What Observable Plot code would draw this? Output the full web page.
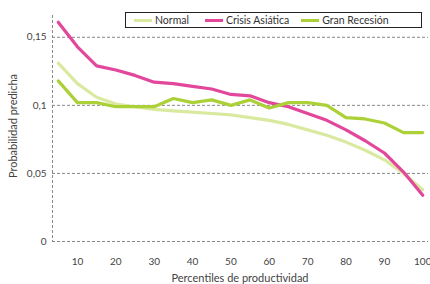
<!DOCTYPE html>
<html><head><meta charset="utf-8">
<script src="https://cdn.jsdelivr.net/npm/d3@7"></script>
<script src="https://cdn.jsdelivr.net/npm/@observablehq/plot@0.6"></script>
<style>
body{margin:0;background:#fff;font-family:Lato,"Open Sans",sans-serif;}
#wrap{position:relative;width:430px;height:284px;overflow:hidden;}
#legend{position:absolute;left:125px;top:12px;width:295px;height:14px;border:1px solid #222;background:#fff;font-size:10.5px;color:#333;display:flex;align-items:center;white-space:nowrap;}
#legend .it{display:flex;align-items:center;margin-left:8px;}
#legend .sw{display:inline-block;width:18px;height:3px;margin-right:3px;}
#xlab{position:absolute;left:0;width:480px;text-align:center;top:271px;font-size:11px;color:#444;}
#ylab{position:absolute;left:12px;top:126px;font-size:11px;color:#444;transform:translate(-50%,-50%) rotate(-90deg);white-space:nowrap;}
</style></head>
<body><div id="wrap"><div id="chart"></div><div id="legend"></div><div id="xlab"></div><div id="ylab"></div></div>
<script>
const percentiles = [5,10,15,20,25,30,35,40,45,50,55,60,65,70,75,80,85,90,95,100];
const normal = [0.131,0.116,0.106,0.101,0.099,0.097,0.096,0.095,0.094,0.093,0.091,0.089,0.086,0.082,0.078,0.073,0.067,0.060,0.050,0.038];
const crisisAsiatica = [0.161,0.143,0.129,0.126,0.122,0.117,0.116,0.114,0.112,0.108,0.107,0.102,0.099,0.094,0.089,0.082,0.074,0.065,0.051,0.034];
const granRecesion = [0.118,0.102,0.102,0.099,0.099,0.099,0.105,0.102,0.104,0.100,0.104,0.098,0.102,0.102,0.100,0.091,0.090,0.087,0.080,0.080];
const seriesNames = ["Normal","Crisis Asiática","Gran Recesión"];
const seriesColors = ["#d9eaa0","#e2479b","#acd037"];
const yTicks = [0,0.05,0.1,0.15];
const yTickLabels = ["0","0,05","0,1","0,15"];
const xTicks = [10,20,30,40,50,60,70,80,90,100];
const xLabel = "Percentiles de productividad";
const yLabel = "Probabilidad predicha";

const allSeries = [normal, crisisAsiatica, granRecesion];
const data = [];
allSeries.forEach((vals,si)=>vals.forEach((v,i)=>data.push({p:percentiles[i], v, s:seriesNames[si]})));

const plot = Plot.plot({
  width:430, height:284,
  marginLeft:52, marginRight:2, marginTop:15, marginBottom:43,
  style:{fontFamily:"Lato, 'Open Sans', sans-serif", fontSize:"10px", color:"#444", background:"#fff"},
  x:{domain:[3.5,101.5], ticks:xTicks, tickSize:0, tickPadding:16, label:null},
  y:{domain:[0,0.166], ticks:yTicks, tickFormat:d=>yTickLabels[yTicks.indexOf(d)], tickSize:0, tickPadding:6, label:null},
  color:{domain:seriesNames, range:seriesColors},
  marks:[
    Plot.ruleY(yTicks,{stroke:"#888", strokeDasharray:"3,2", strokeWidth:1}),
    Plot.ruleX([3.5],{stroke:"#888", strokeDasharray:"3,2", strokeWidth:1}),
    Plot.line(data,{x:"p", y:"v", z:"s", stroke:"s", strokeWidth:3.2, curve:"linear"}),
  ]
});
document.getElementById("chart").appendChild(plot);
document.getElementById("xlab").textContent = xLabel;
document.getElementById("ylab").textContent = yLabel;

const lg = document.getElementById("legend");
seriesNames.forEach((n,i)=>{
  const it=document.createElement("span"); it.className="it";
  if(i===1) it.style.marginLeft="16px";
  if(i===2) it.style.marginLeft="12px";
  const sw=document.createElement("span"); sw.className="sw"; sw.style.background=seriesColors[i];
  it.appendChild(sw); it.appendChild(document.createTextNode(n)); lg.appendChild(it);
});
</script></body></html>
